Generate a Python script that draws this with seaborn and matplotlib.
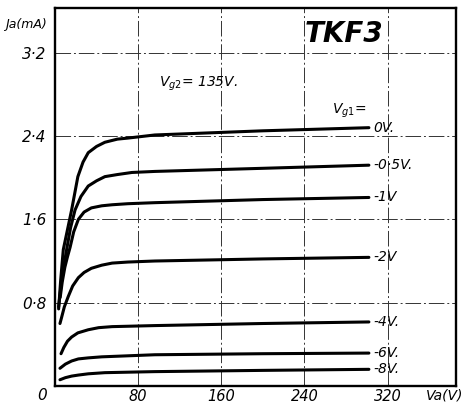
import numpy as np
import pandas as pd
import matplotlib
matplotlib.use("Agg")
import matplotlib.pyplot as plt
import seaborn as sns

# ---- data (Va in V, Ia in mA) ----
grid_voltages = ["0V.", "-0·5V.", "-1V", "-2V", "-4V.", "-6V.", "-8V."]

va_0 = [3.5, 5.5, 8, 12, 16, 22, 27, 32, 40, 48, 60, 70, 96, 200, 302]
ia_0 = [0.74, 1.02, 1.31, 1.50, 1.69, 2.01, 2.15, 2.24, 2.30, 2.34, 2.37, 2.38, 2.41, 2.45, 2.48]

va_05 = [3.5, 6, 8.5, 11.2, 15, 19.3, 25, 32, 40, 48, 60, 74, 96, 200, 302]
ia_05 = [0.76, 0.98, 1.15, 1.31, 1.52, 1.69, 1.82, 1.92, 1.97, 2.01, 2.03, 2.05, 2.06, 2.09, 2.12]

va_1 = [5, 7, 9.5, 12, 14.5, 18, 22.5, 28, 35, 45, 55, 70, 96, 200, 302]
ia_1 = [0.85, 1.0, 1.14, 1.24, 1.33, 1.48, 1.60, 1.67, 1.71, 1.73, 1.74, 1.75, 1.76, 1.79, 1.81]

va_2 = [4.8, 6.4, 9, 12.8, 17, 22.5, 28, 35, 45, 55, 70, 96, 200, 302]
ia_2 = [0.60, 0.66, 0.76, 0.86, 0.96, 1.04, 1.09, 1.13, 1.16, 1.18, 1.19, 1.20, 1.22, 1.235]

va_4 = [5.8, 8.5, 12, 16, 22, 32, 42, 55, 96, 200, 302]
ia_4 = [0.31, 0.37, 0.43, 0.47, 0.51, 0.54, 0.56, 0.57, 0.58, 0.60, 0.615]

va_6 = [4.8, 10, 16, 22.5, 32, 45, 96, 200, 302]
ia_6 = [0.17, 0.21, 0.24, 0.26, 0.27, 0.28, 0.30, 0.31, 0.316]

va_8 = [4.8, 10, 16, 22.5, 32, 48, 96, 200, 302]
ia_8 = [0.06, 0.08, 0.095, 0.105, 0.117, 0.128, 0.138, 0.15, 0.16]

x_ticks = [0, 80, 160, 240, 320]
x_tick_labels = ["", "80", "160", "240", "320"]
y_ticks = [0.8, 1.6, 2.4, 3.2]
y_tick_labels = ["0·8", "1·6", "2·4", "3·2"]

series = [(va_0, ia_0), (va_05, ia_05), (va_1, ia_1), (va_2, ia_2),
          (va_4, ia_4), (va_6, ia_6), (va_8, ia_8)]
rows = []
for name, (va, ia) in zip(grid_voltages, series):
    for v, i in zip(va, ia):
        rows.append({"Va": v, "Ia": i, "Vg1": name})
df = pd.DataFrame(rows)

sns.set_style("white")
plt.rcParams["font.family"] = ["DejaVu Sans"]
plt.rcParams["text.color"] = "black"
plt.rcParams["xtick.labelcolor"] = "black"
plt.rcParams["ytick.labelcolor"] = "black"

fig = plt.figure(figsize=(4.66, 4.07), dpi=100)
ax = fig.add_axes([0.118, 0.0516, 0.861, 0.929])

sns.lineplot(data=df, x="Va", y="Ia", hue="Vg1", hue_order=grid_voltages,
             palette=["black"] * len(grid_voltages), legend=False,
             linewidth=2.2, sort=False, estimator=None, ax=ax)

ax.set_xlim(0, 386)
ax.set_ylim(0, 3.63)
ax.set_xticks(x_ticks)
ax.set_xticklabels(x_tick_labels)
ax.set_yticks(y_ticks)
ax.set_yticklabels(y_tick_labels)
ax.tick_params(axis="x", length=0, labelsize=10.5, pad=2, labelcolor="black")
ax.tick_params(axis="y", length=0, labelsize=11, pad=6, labelcolor="black")
for lab in ax.get_xticklabels() + ax.get_yticklabels():
    lab.set_style("italic")
ax.set_xlabel("")
ax.set_ylabel("")
ax.grid(True, color="#333333", linewidth=0.7, linestyle=(0, (16, 3, 2, 3)))
for s in ax.spines.values():
    s.set_visible(True)
    s.set_color("black")
    s.set_linewidth(1.7)

# labels of curves
label_y = [2.48, 2.12, 1.81, 1.235, 0.615, 0.316, 0.16]
for name, yv in zip(grid_voltages, label_y):
    ax.text(306, yv, name, fontsize=10, style="italic", va="center", ha="left",
            color="black")
ax.text(300, 2.55, r"$V_{g1}$=", fontsize=10, style="italic", va="bottom",
        ha="right", color="black")

ax.text(100, 2.9, r"$V_{g2}$= 135V.", fontsize=10, style="italic", va="center",
        ha="left", color="black")
ax.text(278, 3.38, "TKF3", fontsize=20, fontweight="bold", style="italic",
        va="center", ha="center", color="black")

# axis captions
ax.text(-0.125, 0.955, "Ja(mA)", transform=ax.transAxes, fontsize=9,
        style="italic", va="center", ha="left", color="black")
ax.text(0.925, -0.006, "Va(V)", transform=ax.transAxes, fontsize=10,
        style="italic", va="top", ha="left", color="black")
ax.text(-0.02, -0.006, "0", transform=ax.transAxes, fontsize=11,
        style="italic", va="top", ha="right", color="black")

fig.savefig("out.png", dpi=100, facecolor="white")
